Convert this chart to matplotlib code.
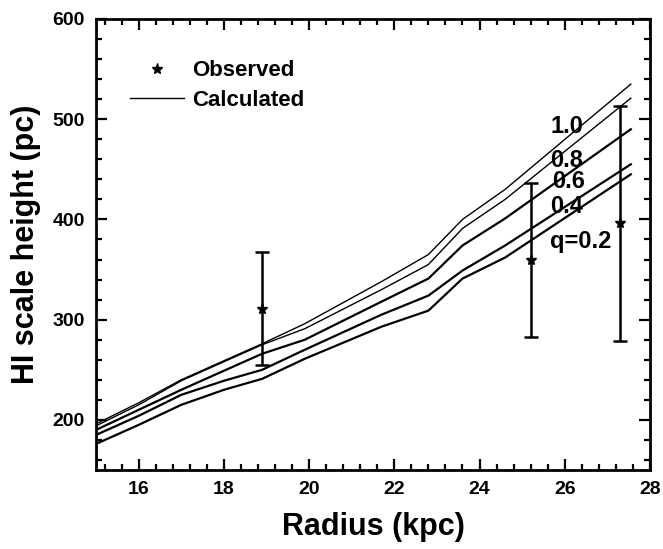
import matplotlib
matplotlib.use("Agg")
import matplotlib.pyplot as plt
from matplotlib.lines import Line2D
from matplotlib.ticker import MultipleLocator

plt.rcParams['font.family'] = ['Liberation Sans', 'DejaVu Sans']
plt.rcParams['font.weight'] = 'bold'

# Observed points (radius kpc, scale height pc, error)
obs_r = [18.9, 25.2, 27.3]
obs_h = [311, 360, 396]
obs_err_lo = [56, 77, 117]
obs_err_hi = [57, 76, 117]

# Calculated curves
calc_r = [15.0, 16.0, 17.0, 18.0, 18.9, 19.9, 21.7, 22.8, 23.6, 24.6, 27.55]
h_q10 = [196, 217, 240, 259, 276, 296, 338, 365, 400, 430, 535]
h_q08 = [194, 215, 239, 258, 275, 291, 330, 355, 391, 420, 521]
h_q06 = [190, 210, 230, 249, 266, 280, 318, 341, 374, 401, 490]
h_q04 = [185, 204, 225, 239, 250, 270, 305, 324, 349, 374, 455]
h_q02 = [176, 195, 215, 230, 241, 261, 293, 309, 341, 362, 445]

curve_labels = ["1.0", "0.8", "0.6", "0.4", "q=0.2"]
label_pos = [(25.66, 493), (25.66, 459), (25.70, 438), (25.66, 413), (25.66, 378)]

fig = plt.figure(figsize=(6.63, 5.49), dpi=100)
ax = fig.add_axes([0.1448, 0.1439, 0.8356, 0.8215])

curves = [h_q10, h_q08, h_q06, h_q04, h_q02]
widths = [1.0, 1.0, 1.6, 1.6, 1.6]
for h, w in zip(curves, widths):
    ax.plot(calc_r, h, color='black', lw=w)

ax.errorbar(obs_r, obs_h, yerr=[obs_err_lo, obs_err_hi], fmt='*', color='black',
            ms=8, lw=1.8, capsize=5, capthick=1.8, elinewidth=1.8)

for lab, (x, y) in zip(curve_labels, label_pos):
    ax.text(x, y, lab, fontsize=17, fontweight='bold', ha='left', va='center')

handles = [Line2D([], [], color='black', marker='*', ls='none', ms=8),
           Line2D([], [], color='black', lw=1.0)]
ax.legend(handles, ['Observed', 'Calculated'], loc='upper left',
          bbox_to_anchor=(0.062, 0.908), frameon=False,
          handlelength=2.4, handletextpad=0.4, labelspacing=0.38,
          borderpad=0, borderaxespad=0, prop={'weight': 'bold', 'size': 16})

ax.set_xlim(15, 28)
ax.set_ylim(150, 600)
ax.xaxis.set_minor_locator(MultipleLocator(0.4))
ax.yaxis.set_minor_locator(MultipleLocator(20))
ax.set_xticks([16, 18, 20, 22, 24, 26, 28])
ax.set_yticks([200, 300, 400, 500, 600])

ax.tick_params(which='both', direction='in', top=True, right=True, width=1.6,
               labelsize=14, pad=8)
ax.tick_params(which='major', length=8)
ax.tick_params(which='minor', length=4.5)
for lab in ax.get_xticklabels() + ax.get_yticklabels():
    lab.set_fontweight('bold')
for s in ax.spines.values():
    s.set_linewidth(2)

ax.set_xlabel('Radius (kpc)', fontsize=22, fontweight='bold', labelpad=10)
ax.set_ylabel('HI scale height (pc)', fontsize=22, fontweight='bold', labelpad=8)

fig.savefig('out.png', dpi=100)
